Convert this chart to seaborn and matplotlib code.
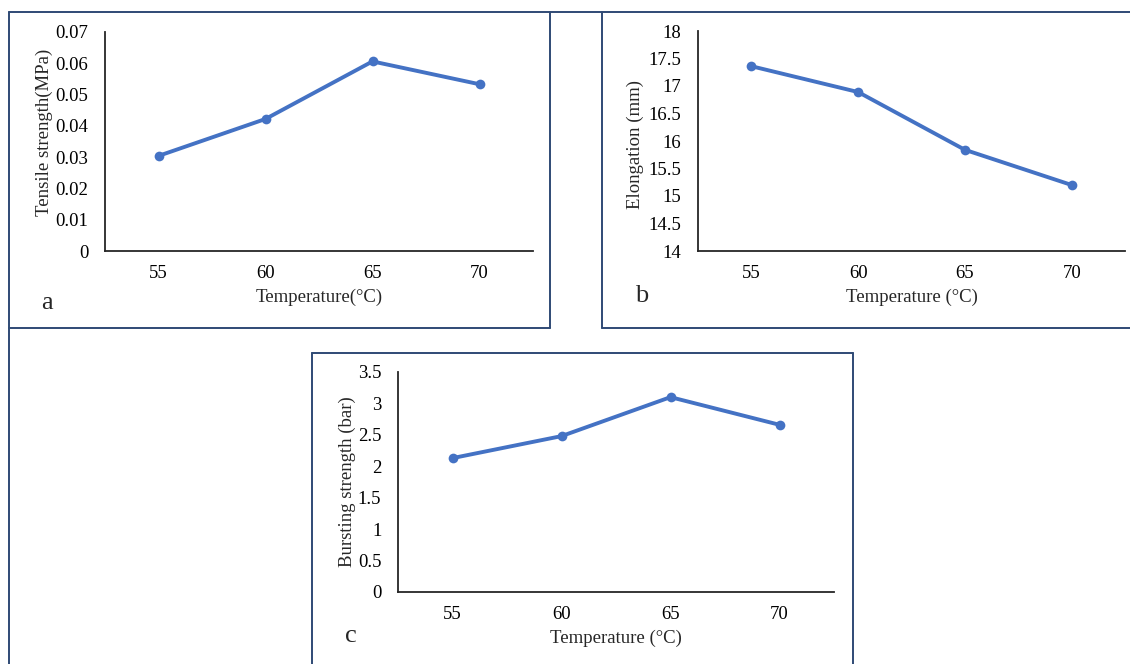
import matplotlib
matplotlib.use("Agg")
import matplotlib.pyplot as plt
from matplotlib.lines import Line2D
import pandas as pd
import seaborn as sns

# data
temperature = [55, 60, 65, 70]
tensile_strength = [0.0304, 0.0422, 0.0606, 0.0533]
elongation = [17.36, 16.89, 15.84, 15.20]
bursting_strength = [2.13, 2.48, 3.10, 2.66]

sns.set_style("white")
plt.rcParams["font.family"] = ["Liberation Serif", "DejaVu Serif"]

W, H = 1130, 664
fig = plt.figure(figsize=(W / 100, H / 100), dpi=100)
line_color = "#4472C4"
frame_color = "#2F4A75"
FS = 13.5


def px_axes(left, top, right, bottom):
    return fig.add_axes([left / W, 1 - bottom / H, (right - left) / W, (bottom - top) / H])


def panel(ax, values, ylabel, ylim, yticks, yticklabels, xlabel, label_xy):
    df = pd.DataFrame({"temp": temperature, "val": values})
    sns.lineplot(data=df, x="temp", y="val", ax=ax, color=line_color, linewidth=2.8,
                 marker="o", markersize=7, markeredgewidth=0)
    ax.set_xlim(52.5, 72.5)
    ax.set_ylim(*ylim)
    ax.set_xticks(temperature)
    ax.set_xticklabels([str(t) for t in temperature])
    ax.set_yticks(yticks)
    ax.set_yticklabels(yticklabels)
    ax.tick_params(axis="both", length=0, labelsize=FS, colors="black")
    ax.tick_params(axis="y", pad=12)
    ax.tick_params(axis="x", pad=10)
    for s in ["top", "right"]:
        ax.spines[s].set_visible(False)
    for s in ["left", "bottom"]:
        ax.spines[s].set_color("#262626")
        ax.spines[s].set_linewidth(1.3)
    ax.set_xlabel(xlabel, fontsize=FS, labelpad=5)
    ax.set_ylabel(ylabel, fontsize=FS)
    ax.yaxis.set_label_coords(*label_xy)
    ax.set_facecolor("none")


ax_a = px_axes(105, 32, 533, 251)
ax_b = px_axes(698, 31, 1125, 251)
ax_c = px_axes(398, 372, 834, 592)

panel(ax_a, tensile_strength, "Tensile strength(MPa)", (0, 0.07),
      [0, 0.01, 0.02, 0.03, 0.04, 0.05, 0.06, 0.07],
      ["0", "0.01", "0.02", "0.03", "0.04", "0.05", "0.06", "0.07"],
      "Temperature(°C)", (-0.122, 0.543))
panel(ax_b, elongation, "Elongation (mm)", (14, 18),
      [14, 14.5, 15, 15.5, 16, 16.5, 17, 17.5, 18],
      ["14", "14.5", "15", "15.5", "16", "16.5", "17", "17.5", "18"],
      "Temperature (°C)", (-0.126, 0.486))
panel(ax_c, bursting_strength, "Bursting strength (bar)", (0, 3.5),
      [0, 0.5, 1, 1.5, 2, 2.5, 3, 3.5],
      ["0", "0.5", "1", "1.5", "2", "2.5", "3", "3.5"],
      "Temperature (°C)", (-0.097, 0.5))

# panel letters
fig.text(47 / W, 1 - 303 / H, "a", fontsize=19, ha="center", va="center")
fig.text(642 / W, 1 - 296 / H, "b", fontsize=19, ha="center", va="center")
fig.text(351 / W, 1 - 636 / H, "c", fontsize=19, ha="center", va="center")


# panel frames
def seg(x0, y0, x1, y1):
    fig.add_artist(Line2D([x0 / W, x1 / W], [1 - y0 / H, 1 - y1 / H],
                          color=frame_color, linewidth=1.4, transform=fig.transFigure))


seg(9, 12, 1130, 12)
seg(9, 12, 9, 664)
seg(9, 328, 550, 328)
seg(550, 12, 550, 328)
seg(602, 12, 602, 328)
seg(602, 328, 1130, 328)
seg(312, 353, 853, 353)
seg(312, 353, 312, 664)
seg(853, 353, 853, 664)

fig.savefig("out.png", dpi=100)
